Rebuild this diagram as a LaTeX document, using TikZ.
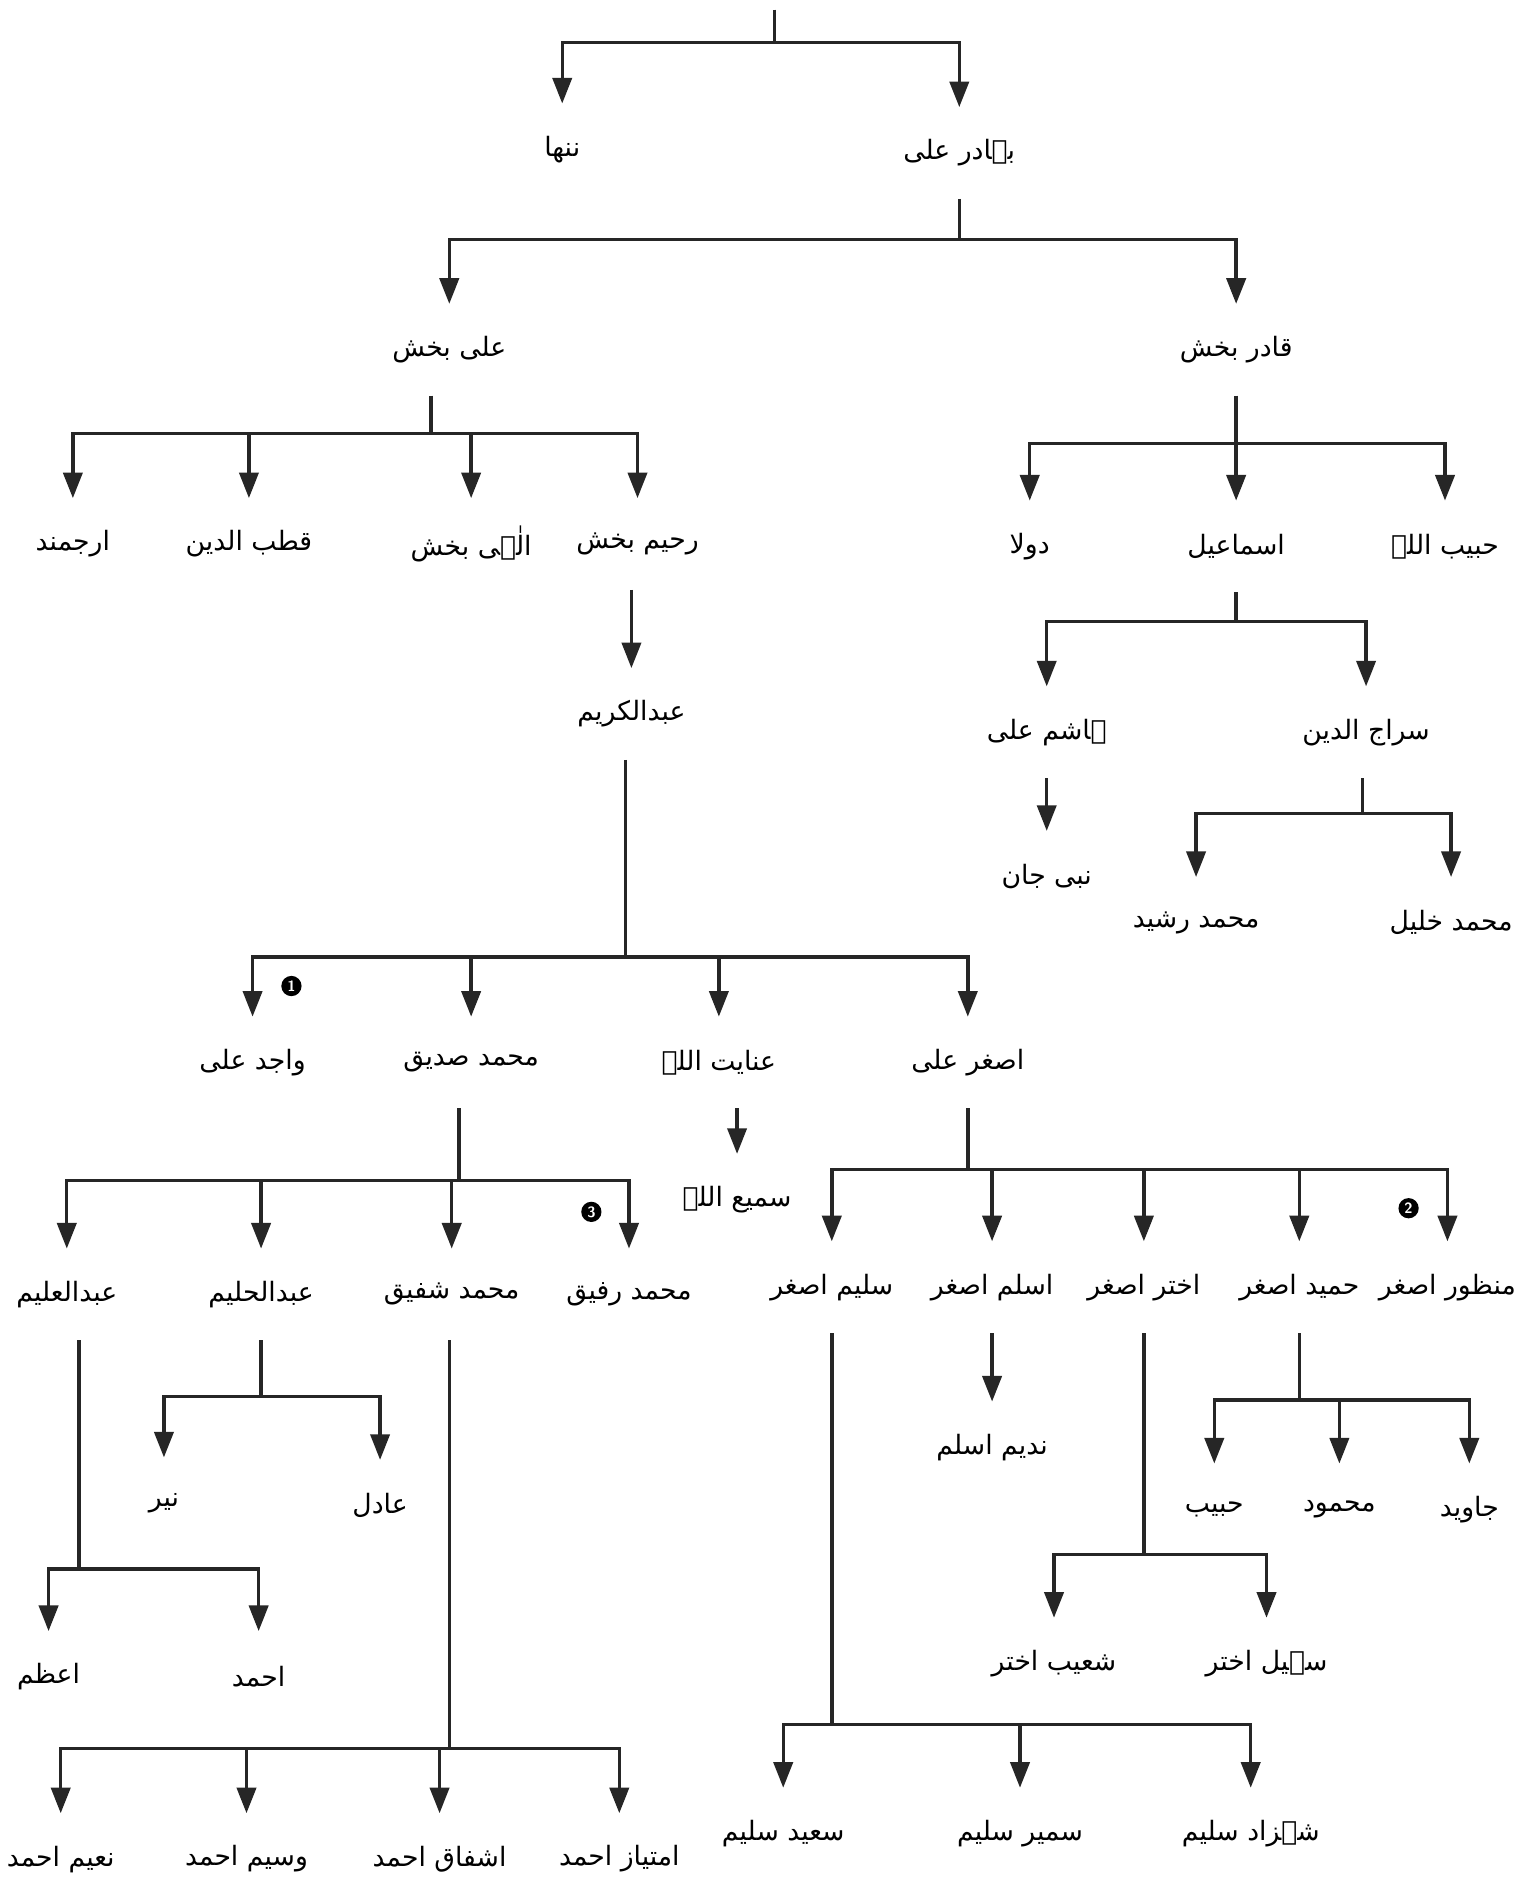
\documentclass[tikz,border=0pt]{standalone}
\usepackage{fontspec}
\newfontfamily\urdufont[Script=Arabic]{DejaVu Sans}
\TeXXeTstate=1
\usetikzlibrary{arrows.meta}
\newcommand{\ur}[1]{\beginR #1\endR}
\tikzset{
  person/.style={font=\urdufont\fontsize{12.5}{15}\selectfont, text=black, minimum height=43pt, inner sep=0pt, outer sep=0pt},
  link/.style={line width=1.6pt, draw=black!85},
  arr/.style={link, -{Triangle[length=12pt,width=9pt]}},
  badge/.style={circle, fill=black, text=white, inner sep=0pt, minimum size=9.5pt, font=\sffamily\bfseries\fontsize{7}{7}\selectfont},
}
\begin{document}
\begin{tikzpicture}[x=0.02cm, y=-0.02cm]
\fill[white] (0,0) rectangle (1258,1568);
\useasboundingbox (0,0) rectangle (1258,1568);

% ---- first generation
\coordinate (top) at (638,8);
\coordinate (j0) at (638,35);
\node[person] (nanha) at (463,123) {\ur{ننھا}};
\node[person] (bahadur) at (790,126) {\ur{بہادر علی}};
\draw[link] (top) -- (j0);
\draw[arr] (j0) -| (nanha.north);
\draw[arr] (j0) -| (bahadur.north);

% ---- sons of Bahadur Ali
\coordinate (j1) at (790,197);
\node[person] (alibakhsh) at (370,288) {\ur{علی بخش}};
\node[person] (qadir) at (1018,288) {\ur{قادر بخش}};
\draw[link] (bahadur.south) -- (j1);
\draw[arr] (j1) -| (alibakhsh.north);
\draw[arr] (j1) -| (qadir.north);

% ---- sons of Ali Bakhsh
\coordinate (j2) at (355,357);
\node[person] (arjumand) at (60,448) {\ur{ارجمند}};
\node[person] (qutb) at (205,448) {\ur{قطب الدین}};
\node[person] (ilahi) at (388,448) {\ur{الٰہی بخش}};
\node[person] (rahim) at (525,448) {\ur{رحیم بخش}};
\draw[link] (j2 |- alibakhsh.south) -- (j2);
\foreach \c in {arjumand,qutb,ilahi,rahim} \draw[arr] (j2) -| (\c.north);

% ---- sons of Qadir Bakhsh
\coordinate (j3) at (1018,365);
\node[person] (daula) at (848,450) {\ur{دولا}};
\node[person] (ismail) at (1018,450) {\ur{اسماعیل}};
\node[person] (habibullah) at (1190,450) {\ur{حبیب اللہ}};
\draw[arr] (qadir.south) -- (ismail.north);
\draw[arr] (j3) -| (daula.north);
\draw[arr] (j3) -| (habibullah.north);

% ---- sons of Ismail
\coordinate (j4) at (1018,512);
\node[person] (hashim) at (862,603) {\ur{ہاشم علی}};
\node[person] (siraj) at (1125,603) {\ur{سراج الدین}};
\draw[link] (ismail.south) -- (j4);
\draw[arr] (j4) -| (hashim.north);
\draw[arr] (j4) -| (siraj.north);

\node[person] (nabijan) at (862,722) {\ur{نبی جان}};
\draw[arr] (hashim.south) -- (nabijan.north);

\coordinate (j5) at (1122,670);
\node[person] (rashid) at (985,760) {\ur{محمد رشید}};
\node[person] (khalil) at (1195,760) {\ur{محمد خلیل}};
\draw[link] (j5 |- siraj.south) -- (j5);
\draw[arr] (j5) -| (rashid.north);
\draw[arr] (j5) -| (khalil.north);

% ---- Rahim Bakhsh line
\node[person] (karim) at (520,588) {\ur{عبدالکریم}};
\draw[arr] (karim.north |- rahim.south) -- (karim.north);

\coordinate (j6) at (515,788);
\node[person] (wajid) at (208,875) {\ur{واجد علی}};
\node[person] (siddiq) at (388,875) {\ur{محمد صدیق}};
\node[person] (inayat) at (592,875) {\ur{عنایت اللہ}};
\node[person] (asghar) at (797,875) {\ur{اصغر علی}};
\draw[link] (j6 |- karim.south) -- (j6);
\foreach \c in {wajid,siddiq,inayat,asghar} \draw[arr] (j6) -| (\c.north);
\node[badge] (b1) at (240,812) {1};

\node[person] (sami) at (607,988) {\ur{سمیع اللہ}};
\draw[arr] (sami.north |- inayat.south) -- (sami.north);

% ---- sons of Muhammad Siddiq
\coordinate (j7) at (378,972);
\node[person] (aleem) at (55,1066) {\ur{عبدالعلیم}};
\node[person] (haleem) at (215,1066) {\ur{عبدالحلیم}};
\node[person] (shafiq) at (372,1066) {\ur{محمد شفیق}};
\node[person] (rafiq) at (518,1066) {\ur{محمد رفیق}};
\draw[link] (j7 |- siddiq.south) -- (j7);
\foreach \c in {aleem,haleem,shafiq,rafiq} \draw[arr] (j7) -| (\c.north);
\node[badge] (b3) at (487,998) {3};

% ---- sons of Asghar Ali
\coordinate (j8) at (797,963);
\node[person] (saleem) at (685,1060) {\ur{سلیم اصغر}};
\node[person] (aslam) at (817,1060) {\ur{اسلم اصغر}};
\node[person] (akhtar) at (942,1060) {\ur{اختر اصغر}};
\node[person] (hameed) at (1070,1060) {\ur{حمید اصغر}};
\node[person] (manzoor) at (1192,1060) {\ur{منظور اصغر}};
\draw[link] (asghar.south) -- (j8);
\foreach \c in {saleem,aslam,akhtar,hameed,manzoor} \draw[arr] (j8) -| (\c.north);
\node[badge] (b2) at (1160,995) {2};

\node[person] (nadeem) at (817,1192) {\ur{ندیم اسلم}};
\draw[arr] (aslam.south) -- (nadeem.north);

\coordinate (j9) at (1070,1153);
\node[person] (habib) at (1000,1243) {\ur{حبیب}};
\node[person] (mahmood) at (1103,1243) {\ur{محمود}};
\node[person] (javed) at (1210,1243) {\ur{جاوید}};
\draw[link] (hameed.south) -- (j9);
\foreach \c in {habib,mahmood,javed} \draw[arr] (j9) -| (\c.north);

\coordinate (j10) at (942,1280);
\node[person] (shoaib) at (868,1370) {\ur{شعیب اختر}};
\node[person] (sohail) at (1043,1370) {\ur{سہیل اختر}};
\draw[link] (akhtar.south) -- (j10);
\draw[arr] (j10) -| (shoaib.north);
\draw[arr] (j10) -| (sohail.north);

\coordinate (j11) at (685,1420);
\node[person] (saeed) at (645,1510) {\ur{سعید سلیم}};
\node[person] (sameer) at (840,1510) {\ur{سمیر سلیم}};
\node[person] (shahzad) at (1030,1510) {\ur{شہزاد سلیم}};
\draw[link] (saleem.south) -- (j11);
\foreach \c in {saeed,sameer,shahzad} \draw[arr] (j11) -| (\c.north);

% ---- grandsons of Muhammad Siddiq
\coordinate (j12) at (215,1150);
\node[person] (nayyar) at (135,1238) {\ur{نیر}};
\node[person] (adil) at (313,1240) {\ur{عادل}};
\draw[link] (haleem.south) -- (j12);
\draw[arr] (j12) -| (nayyar.north);
\draw[arr] (j12) -| (adil.north);

\coordinate (j13) at (65,1292);
\node[person] (azam) at (40,1381) {\ur{اعظم}};
\node[person] (ahmad) at (213,1381) {\ur{احمد}};
\draw[link] (j13 |- aleem.south) -- (j13);
\draw[arr] (j13) -| (azam.north);
\draw[arr] (j13) -| (ahmad.north);

\coordinate (j14) at (370,1440);
\node[person] (naeem) at (50,1531) {\ur{نعیم احمد}};
\node[person] (waseem) at (203,1531) {\ur{وسیم احمد}};
\node[person] (ishfaq) at (362,1531) {\ur{اشفاق احمد}};
\node[person] (imtiaz) at (510,1531) {\ur{امتیاز احمد}};
\draw[link] (j14 |- shafiq.south) -- (j14);
\foreach \c in {naeem,waseem,ishfaq,imtiaz} \draw[arr] (j14) -| (\c.north);
\end{tikzpicture}
\end{document}
